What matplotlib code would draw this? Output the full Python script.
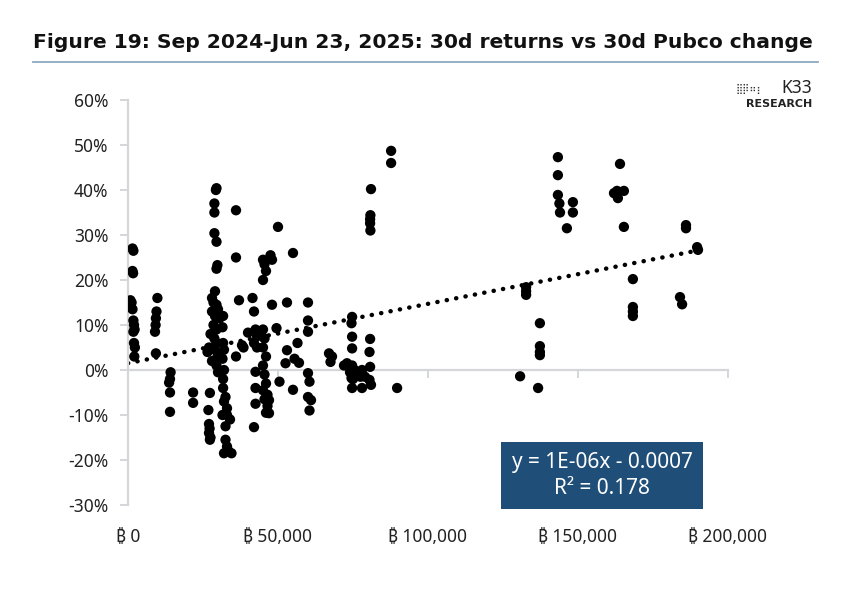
"""Figure 19: 30d returns vs 30d Pubco change (K33 Research style scatter)."""
import matplotlib
matplotlib.use('Agg')
import matplotlib.pyplot as plt
import numpy as np

plt.rcParams['font.family'] = ['Noto Sans', 'DejaVu Sans']

title = "Figure 19: Sep 2024-Jun 23, 2025: 30d returns vs 30d Pubco change"
x_ticks = [0, 50000, 100000, 150000, 200000]
x_tick_labels = ["\u20bf 0", "\u20bf 50,000", "\u20bf 100,000", "\u20bf 150,000", "\u20bf 200,000"]
y_ticks = [-0.3, -0.2, -0.1, 0.0, 0.1, 0.2, 0.3, 0.4, 0.5, 0.6]
y_tick_labels = ["-30%", "-20%", "-10%", "0%", "10%", "20%", "30%", "40%", "50%", "60%"]
eq_text = "y = 1E-06x - 0.0007\nR\u00b2 = 0.178"

# 30d Pubco change (BTC)
pubco_btc = [
    1500, 1800, 1500, 1700, 800, 1200, 1000, 1500, 1800, 2000, 2200, 1800, 2000, 2300, 2100,
    9800, 9500, 9300, 9200, 9000, 9300,
    14200, 14000, 13700, 14000, 14000,
    21700, 21700,
    29500, 29300, 28800, 28800, 28800, 29500, 29800, 29500,
    29000, 28000, 28500, 29500, 30000, 28000, 29000, 30500, 28500, 29500, 27500, 28800,
    29500, 27000, 29000, 30000, 26500, 29500, 28000, 29500, 30000,
    27300, 26800, 27000, 27200, 27000, 27500, 27300,
    31700, 31500, 31700, 32000, 31500, 32000, 31700, 31700, 32500, 32000, 33000, 31500,
    33000, 34000, 32500, 32500, 33000, 33500, 34500, 32000,
    36000, 36000, 37000, 38500, 36000, 38000,
    41500, 42000, 40000, 42500, 43000, 42000, 43000, 42500, 42500, 42500, 42000,
    45000, 45500, 46000, 45000, 45000, 45500, 45000, 46000, 45000, 45500, 46000, 45000,
    46500, 45500, 46500, 46000, 47500, 48000, 48000, 47000, 47000,
    50000, 49500, 50500, 53000, 53000, 52500, 55000, 55000, 56500, 57000, 55500,
    60000, 60000, 60000, 60000, 60500, 60000, 61000, 60500,
    67000, 68000, 67500, 72000, 73000, 74000, 75000, 76500, 77500,
    74700, 74500, 74700, 74700, 74700, 75500, 74500, 74700,
    78000, 79000, 78000, 80700, 80500, 80700, 80500, 81000, 89700,
    81000, 80800, 80700, 80700, 80800, 87700, 87700,
    130700, 132700, 132700, 132700, 136700, 137300, 137300, 137300, 137300,
    143300, 143300, 143300, 143800, 144000, 146300, 148300, 148300,
    164000, 162000, 163000, 163300, 165300, 165300,
    168300, 168300, 168300, 168300, 184000, 184700, 186000, 186000, 189700, 190000,
]

# 30d BTC return
btc_return = [
    0.27, 0.265, 0.22, 0.215, 0.155, 0.15, 0.14, 0.135, 0.11, 0.10, 0.09, 0.085, 0.06, 0.05, 0.03,
    0.16, 0.13, 0.115, 0.10, 0.085, 0.037,
    -0.005, -0.02, -0.028, -0.05, -0.093,
    -0.05, -0.073,
    0.404, 0.40, 0.37, 0.35, 0.304, 0.285, 0.233, 0.225,
    0.175, 0.16, 0.15, 0.145, 0.135, 0.13, 0.12, 0.115, 0.10, 0.09, 0.08, 0.07,
    0.06, 0.05, 0.045, 0.035, 0.04, 0.025, 0.02, 0.01, -0.005,
    -0.051, -0.089, -0.12, -0.13, -0.14, -0.15, -0.155,
    0.12, 0.095, 0.06, 0.045, 0.025, 0.00, -0.02, -0.04, -0.06, -0.07, -0.085, -0.10,
    -0.10, -0.11, -0.125, -0.155, -0.17, -0.18, -0.185, -0.185,
    0.355, 0.25, 0.155, 0.05, 0.03, 0.055,
    0.16, 0.13, 0.083, 0.09, 0.075, 0.06, 0.05, -0.004, -0.04, -0.075, -0.127,
    0.245, 0.235, 0.22, 0.20, 0.09, 0.07, 0.05, 0.03, 0.01, -0.01, -0.03, -0.045,
    -0.055, -0.065, -0.08, -0.095, 0.255, 0.245, 0.145, -0.067, -0.096,
    0.318, 0.093, -0.026, 0.15, 0.044, 0.015, 0.26, -0.044, 0.06, 0.016, 0.025,
    0.15, 0.11, 0.085, -0.007, -0.026, -0.06, -0.067, -0.09,
    0.037, 0.03, 0.018, 0.01, 0.015, -0.005, -0.02, -0.005, -0.015,
    0.118, 0.104, 0.074, 0.048, 0.01, 0.00, -0.018, -0.04,
    0.00, -0.015, -0.04, 0.069, 0.04, 0.007, -0.022, -0.033, -0.04,
    0.402, 0.344, 0.335, 0.326, 0.31, 0.487, 0.46,
    -0.014, 0.184, 0.175, 0.167, -0.04, 0.104, 0.053, 0.04, 0.033,
    0.473, 0.433, 0.389, 0.37, 0.35, 0.315, 0.373, 0.35,
    0.458, 0.393, 0.398, 0.382, 0.398, 0.318,
    0.202, 0.14, 0.13, 0.12, 0.162, 0.146, 0.322, 0.315, 0.273, 0.267,
]

x = np.array(pubco_btc, dtype=float)
y = np.array(btc_return)

fig = plt.figure(figsize=(8.53, 5.91), dpi=100)
ax = fig.add_axes([128 / 853, 86 / 591, 600 / 853, 405 / 591])

axis_grey = '#d4d6da'

# linear trendline
slope, intercept = np.polyfit(x, y, 1)
xt = np.linspace(0, x.max(), 100)
ax.plot(xt, slope * xt + intercept, color='black', lw=3.2,
        linestyle=(0, (0.05, 2.1)), dash_capstyle='round', zorder=2)

ax.scatter(x, y, s=55, color='black', edgecolors='none', zorder=3)

ax.set_xlim(0, 200000)
ax.set_ylim(-0.3, 0.6)

for side in ['top', 'right']:
    ax.spines[side].set_visible(False)
ax.spines['left'].set_color(axis_grey)
ax.spines['left'].set_linewidth(1.6)
ax.spines['bottom'].set_position(('data', 0))
ax.spines['bottom'].set_color(axis_grey)
ax.spines['bottom'].set_linewidth(1.6)

ax.set_yticks(y_ticks)
ax.set_yticklabels(y_tick_labels, fontsize=12.5, color='#222222')
ax.tick_params(axis='y', length=6, width=1.4, color=axis_grey, pad=8)

ax.set_xticks(x_ticks)
ax.set_xticklabels([])
ax.tick_params(axis='x', direction='out', length=6, width=1.4, color=axis_grey)
for xv, lab in zip(x_ticks, x_tick_labels):
    ax.text(xv, -0.08, lab, transform=ax.get_xaxis_transform(),
            ha='center', va='center', fontsize=12.5, color='#222222')

# regression label box
ax.text(0.79, 0.073, eq_text, transform=ax.transAxes, ha='center', va='center',
        fontsize=15, color='white', linespacing=1.3, zorder=5,
        bbox=dict(boxstyle='square,pad=0.5', facecolor='#1f4e79', edgecolor='none'))

# title and underline
fig.text(33 / 853, 1 - 43 / 591, title, fontsize=14.6, fontweight='bold',
         family='DejaVu Sans', ha='left', va='center', color='#111111')
fig.add_artist(plt.Line2D([33 / 853, 818 / 853], [1 - 62 / 591, 1 - 62 / 591],
                          color='#8fa8c4', lw=1.3))

# K33 research logo
fig.text(736 / 853, 1 - 89 / 591, "\u28ff\u287f\u2836\u2846", fontsize=7,
         family='DejaVu Sans', ha='left', va='center', color='#333333')
fig.text(812 / 853, 1 - 88 / 591, "K33", fontsize=12.5, ha='right', va='center',
         color='#222222')
fig.text(812 / 853, 1 - 104 / 591, "RESEARCH", fontsize=8, fontweight='bold',
         family='DejaVu Sans', ha='right', va='center', color='#222222')

fig.savefig('out.png', dpi=100)
